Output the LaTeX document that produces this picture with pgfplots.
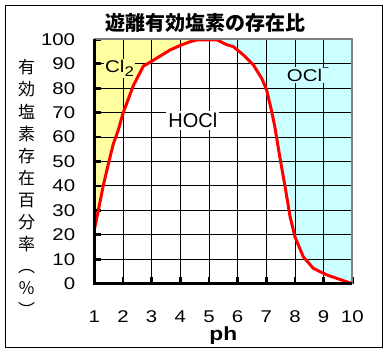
\documentclass[border=0pt]{standalone}
\usepackage{pgfplots}
\pgfplotsset{compat=1.18}
\usepackage{fontspec}
\setmainfont{Liberation Sans}
\newfontfamily\tickfont[FakeStretch=1.2]{Liberation Sans}
\newfontfamily\cjk{Noto Sans CJK JP}
\definecolor{clyellow}{RGB}{255,255,160}
\definecolor{clcyan}{RGB}{204,255,255}
\definecolor{bordergray}{RGB}{128,128,128}
\begin{document}
\begin{tikzpicture}
\path (0pt,0pt) rectangle (390pt,354pt);
\draw[black, line width=1pt] (5.5pt,6.5pt) rectangle (382.5pt,348.5pt);
\node[font={\cjk\bfseries\fontsize{20}{24}\selectfont}] at (205.5pt,331.5pt) {遊離有効塩素の存在比};
\node[font={\cjk\fontsize{17}{22.1}\selectfont}, align=center, inner sep=0pt] at (26.7pt,165.7pt)
  {有\\効\\塩\\素\\存\\在\\百\\分\\率\\︵\\％\\︶};
\begin{axis}[
  at={(94.3pt,70.3pt)}, anchor=south west,
  scale only axis, width=258pt, height=244.4pt,
  set layers,
  xmin=1, xmax=10, ymin=0, ymax=100,
  xtick={1,...,10}, ytick={0,10,...,100},
  grid=major, major grid style={black, line width=0.9pt},
  axis line style={draw=none},
  tick align=inside, tick pos=left,
  major tick length=7pt,
  tick style={black, line width=2.7pt},
  ticklabel style={font={\tickfont\fontsize{17}{17}\selectfont}, inner sep=0pt},
  /pgf/number format/assume math mode=true,
  yticklabel shift=19pt,
  xticklabel shift=27pt,
  xlabel={\bfseries ph}, xlabel style={font={\tickfont\fontsize{19}{19}\selectfont}},
  clip=false,
]
\addplot[fill=clyellow, draw=none, on layer=axis background] coordinates {
(1.00,22) (1.14,30) (1.31,40) (1.49,49) (1.66,57) (1.84,63) (2.01,70) (2.36,81) (2.71,89) (3.00,91) (3.64,95.6) (4.00,97.5) (4.34,99) (4.60,99.8) (4.60,100) (1,100)} --cycle;
\addplot[fill=clcyan, draw=none, on layer=axis background] coordinates {
(5.27,99.8) (5.62,97.8) (5.85,97) (6.20,93.6) (6.55,89.5) (6.84,84) (7.01,79.3) (7.19,70.4) (7.30,64) (7.47,52) (7.65,40) (7.83,27.4) (8.00,19.2) (8.29,11) (8.64,6.3) (9.11,3.6) (10.00,0) (10,100) (5.27,100)} --cycle;
\addplot[red, line width=3pt, line join=round, mark=none] coordinates {
(1.00,22) (1.14,30) (1.31,40) (1.49,49) (1.66,57) (1.84,63) (2.01,70) (2.36,81) (2.71,89) (3.00,91) (3.64,95.6) (4.00,97.5) (4.34,99) (4.60,99.8) (5.27,99.8) (5.62,97.8) (5.85,97) (6.20,93.6) (6.55,89.5) (6.84,84) (7.01,79.3) (7.19,70.4) (7.30,64) (7.47,52) (7.65,40) (7.83,27.4) (8.00,19.2) (8.29,11) (8.64,6.3) (9.11,3.6) (10.00,0)};
\node[fill=clyellow, inner sep=1pt, anchor=base west, font={\tickfont\fontsize{17}{17}\selectfont}] at (axis cs:1.34,86.5) {Cl\raisebox{-4.4pt}{\fontsize{14}{14}\selectfont 2}};
\node[fill=white, inner sep=2pt, anchor=base west, font={\fontsize{20}{20}\selectfont}] at (axis cs:3.51,63.8) {HOCl};
\node[fill=clcyan, inner sep=1pt, anchor=base west, font={\tickfont\fontsize{17}{17}\selectfont}] at (axis cs:7.68,82.7) {OCl\raisebox{0.6em}{\fontsize{10}{10}\selectfont −}};
\draw[bordergray, line width=2pt] (rel axis cs:0,1) -- (rel axis cs:1,1) -- (rel axis cs:1,0);
\draw[black, line width=3pt] (rel axis cs:0,1) -- (rel axis cs:0,0) -- (rel axis cs:1,0);
\end{axis}
\end{tikzpicture}
\end{document}
